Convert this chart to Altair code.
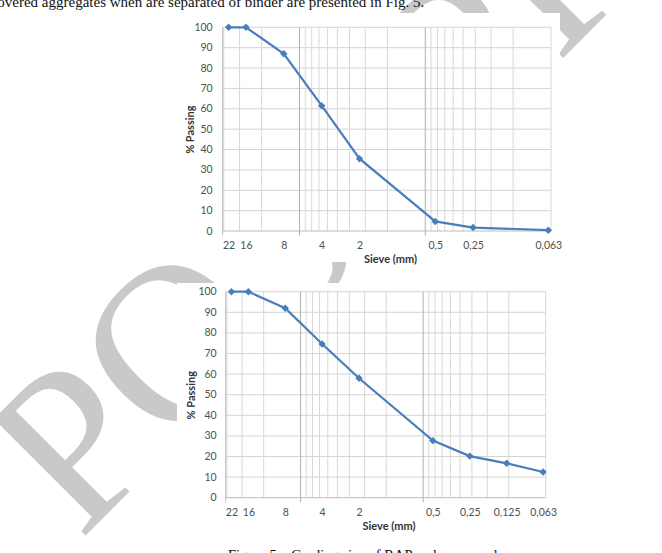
import altair as alt
import pandas as pd

# --- data -------------------------------------------------------------
# RAP aggregates: sieve opening (mm) and cumulative % passing
sieve_rap = [22, 16, 8, 4, 2, 0.5, 0.25, 0.063]
passing_rap = [100, 100, 87, 61.5, 35.5, 4.7, 1.7, 0.4]

# Recovered aggregates (binder removed)
sieve_rec = [22, 16, 8, 4, 2, 0.5, 0.25, 0.125, 0.063]
passing_rec = [100, 100, 92, 74.6, 58, 27.7, 20.2, 16.7, 12.5]

pct_ticks = [0, 10, 20, 30, 40, 50, 60, 70, 80, 90, 100]

# log-paper grid of the sieve axis (mm)
grid_major = [6, 0.6]
grid_minor = [24, 18, 12, 5.4, 4.8, 4.2, 3.6, 3.0, 2.4, 1.8, 1.2,
              0.54, 0.48, 0.42, 0.36, 0.30, 0.24, 0.18, 0.12, 0.06]
x_domain = [0.06, 24.5]

page_text = "recovered aggregates when are separated of binder are presented in Fig. 5."
caption_text = "Figure 5 – Grading size of RAP and recovered"
watermark_text = "POSTPRINT"

# --- styling ----------------------------------------------------------
W, H = 662, 553
BLUE = "#4a7ebb"
LABEL = dict(labelFont="Lato", labelFontSize=10.5, labelColor="#505050")
TITLE = dict(titleFont="Lato", titleFontSize=11, titleFontWeight="bold",
             titleColor="#333333")
ONE = pd.DataFrame({"k": [0]})


def panel(sieve, passing, left, right, top, bottom, y_pad, y_title_x, x_title_x):
    xs = alt.Scale(type="log", domain=x_domain, range=[right, left])
    ys = alt.Scale(domain=[0, 100], range=[bottom, top], nice=False, zero=False)

    # one axis definition per channel, shared by every layer of the panel
    x_axis = alt.Axis(
        orient="bottom", offset=-(H - bottom), values=sieve,
        labelExpr="replace(toString(datum.value), '.', ',')",
        grid=False, ticks=False, tickSize=0, domain=False,
        labelPadding=9.5, labelOverlap=False, labelFlush=False,
        title="Sieve (mm)", titleX=x_title_x, titleY=22.5, titleBaseline="top",
        zindex=1, **LABEL, **TITLE,
    )
    y_axis = alt.Axis(
        orient="left", offset=-left, values=pct_ticks,
        grid=False, ticks=False, tickSize=0, domain=False,
        labelPadding=y_pad, labelOverlap=False,
        title="% Passing", titleX=y_title_x - left, titleY=(top + bottom) / 2,
        titleBaseline="middle", titleAngle=270,
        zindex=1, **LABEL, **TITLE,
    )

    curve = pd.DataFrame({"sieve": sieve, "passing": passing})

    hgrid = alt.Chart(pd.DataFrame({"pct": pct_ticks[1:]})).mark_rule(
        color="#d4d4d4", strokeWidth=1
    ).encode(
        y=alt.Y("pct:Q", scale=ys, axis=y_axis),
        x=alt.XDatum(x_domain[1], scale=xs, axis=x_axis),
        x2=alt.X2Datum(x_domain[0]),
    )
    vminor = alt.Chart(pd.DataFrame({"size": grid_minor})).mark_rule(
        color="#d8d8d8", strokeWidth=1
    ).encode(
        x=alt.X("size:Q", scale=xs, axis=x_axis),
        y=alt.YDatum(100, scale=ys, axis=y_axis),
        y2=alt.Y2Datum(0),
    )
    vmajor = alt.Chart(pd.DataFrame({"size": grid_major})).mark_rule(
        color="#b0b0b0", strokeWidth=1
    ).encode(
        x=alt.X("size:Q", scale=xs, axis=x_axis),
        y=alt.YDatum(100, scale=ys, axis=y_axis),
        y2=alt.Y2Datum(-2.2),
    )
    x_line = alt.Chart(ONE).mark_rule(color="#bcbcbc", strokeWidth=1).encode(
        y=alt.YDatum(0, scale=ys, axis=y_axis),
        x=alt.XDatum(x_domain[1], scale=xs, axis=x_axis),
        x2=alt.X2Datum(x_domain[0]),
    )
    y_line = alt.Chart(ONE).mark_rule(color="#bcbcbc", strokeWidth=1).encode(
        x=alt.XDatum(x_domain[1], scale=xs, axis=x_axis),
        y=alt.YDatum(-2.2, scale=ys, axis=y_axis),
        y2=alt.Y2Datum(100),
    )
    line = alt.Chart(curve).mark_line(color=BLUE, strokeWidth=2.2).encode(
        x=alt.X("sieve:Q", scale=xs, axis=x_axis),
        y=alt.Y("passing:Q", scale=ys, axis=y_axis),
    )
    pts = alt.Chart(curve).mark_point(
        shape="diamond", filled=True, size=55, color=BLUE, opacity=1
    ).encode(
        x=alt.X("sieve:Q", scale=xs, axis=x_axis),
        y=alt.Y("passing:Q", scale=ys, axis=y_axis),
    )
    return alt.layer(hgrid, vminor, vmajor, x_line, y_line, line, pts)


# grey diagonal watermark behind the page
watermark = alt.Chart(pd.DataFrame({"t": [watermark_text]})).mark_text(
    font="Liberation Serif", fontSize=225, color="#c9c9c9", angle=315,
    align="left", baseline="alphabetic",
).encode(text="t:N", x=alt.value(80), y=alt.value(541))

# white figure sheets covering the watermark
sheet_top = alt.Chart(ONE).mark_rect(color="white").encode(
    x=alt.value(178), x2=alt.value(560), y=alt.value(13), y2=alt.value(262)
)
sheet_bottom = alt.Chart(ONE).mark_rect(color="white").encode(
    x=alt.value(177), x2=alt.value(560), y=alt.value(283), y2=alt.value(517)
)

body_line = alt.Chart(pd.DataFrame({"t": [page_text]})).mark_text(
    font="Liberation Serif", fontSize=15, color="#111111",
    align="left", baseline="alphabetic",
).encode(text="t:N", x=alt.value(-21), y=alt.value(6.5))

caption = alt.Chart(pd.DataFrame({"t": [caption_text]})).mark_text(
    font="Liberation Serif", fontSize=14.5, color="#111111",
    align="left", baseline="alphabetic",
).encode(text="t:N", x=alt.value(228), y=alt.value(560))

rap = panel(sieve_rap, passing_rap, left=222.7, right=551, top=27.3, bottom=231,
            y_pad=10.5, y_title_x=190, x_title_x=390)
rec = panel(sieve_rec, passing_rec, left=225.7, right=545.7, top=291.7, bottom=497.7,
            y_pad=9.5, y_title_x=191, x_title_x=388.5)

chart = (
    alt.layer(watermark, sheet_top, sheet_bottom, body_line, caption, rap, rec)
    .resolve_scale(x="independent", y="independent")
    .properties(width=W, height=H, padding=0,
                autosize=alt.AutoSizeParams(type="none"), background="white")
    .configure_view(stroke=None)
)

chart.save("out.html", embed_options={"renderer": "svg", "actions": False})
